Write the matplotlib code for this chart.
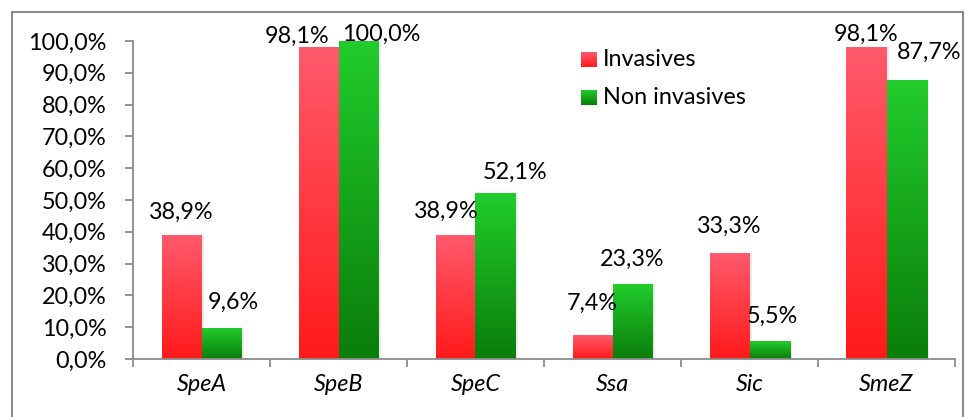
import numpy as np
import matplotlib
matplotlib.use("Agg")
import matplotlib.pyplot as plt
from matplotlib.colors import LinearSegmentedColormap
from matplotlib.patches import Rectangle

# Data
categories = ["SpeA", "SpeB", "SpeC", "Ssa", "Sic", "SmeZ"]
invasives = [38.9, 98.1, 38.9, 7.4, 33.3, 98.1]
non_invasives = [9.6, 100.0, 52.1, 23.3, 5.5, 87.7]
series_names = ["Invasives", "Non invasives"]
yticks = list(range(0, 101, 10))

plt.rcParams["font.family"] = ["Lato", "DejaVu Sans"]

W, H, DPI = 974, 417, 100
fig = plt.figure(figsize=(W / DPI, H / DPI), dpi=DPI)

def fx(px):
    return px / W

def fy(py):
    return 1 - py / H

# Outer chart frame
fig.patches.append(Rectangle((fx(11.5), fy(430)), fx(962.5) - fx(11.5), fy(11.5) - fy(430),
                             transform=fig.transFigure, fill=False,
                             edgecolor="#8c8c8c", linewidth=1.5, zorder=0))

ax = fig.add_axes([fx(133), fy(359), fx(955) - fx(133), fy(41) - fy(359)])

red_cmap = LinearSegmentedColormap.from_list("red", ["#ff1a1a", "#ff5a6c"])
green_cmap = LinearSegmentedColormap.from_list("green", ["#0a7d0a", "#22cc2c"])
grad = np.linspace(0, 1, 256).reshape(-1, 1)

bw = 40 / 137
x = np.arange(len(categories))

def gradient_bar(xc, h, cmap):
    # soft shadow on the right side
    ax.add_patch(Rectangle((xc - bw / 2 + 0.02, 0), bw, h, facecolor="#000000",
                           alpha=0.08, edgecolor="none", zorder=1))
    ax.imshow(grad, cmap=cmap, aspect="auto", origin="lower",
              extent=(xc - bw / 2, xc + bw / 2, 0, h), zorder=2)

for i in x:
    gradient_bar(i - bw / 2, invasives[i], red_cmap)
    gradient_bar(i + bw / 2, non_invasives[i], green_cmap)

# Value labels (pixel offsets from the top of each bar)
inv_off = [(0, 23), (-21, 11), (-9, 24), (0, 32), (0, 27), (0, 13)]
non_off = [(12, 26), (23, 7), (20, 21), (0, 26), (3, 25), (23, 28)]
fs = 16.8
for i in x:
    for val, xc, off in ((invasives[i], i - bw / 2, inv_off[i]),
                         (non_invasives[i], i + bw / 2, non_off[i])):
        ax.annotate(f"{val:.1f}%".replace(".", ","), (xc, val),
                    xytext=off, textcoords="offset pixels",
                    ha="center", va="center", fontsize=fs, color="black",
                    annotation_clip=False, zorder=5)

ax.set_xlim(-0.5, len(categories) - 0.5)
ax.set_ylim(0, 100)
ax.set_yticks(yticks)
ax.set_yticklabels([f"{t:.1f}%".replace(".", ",") for t in yticks], fontsize=fs)
ax.set_xticks(x)
ax.set_xticklabels(categories, fontsize=fs, style="italic")
ax.set_xticks(np.arange(-0.5, len(categories)), minor=True)

for s in ("top", "right"):
    ax.spines[s].set_visible(False)
for s in ("left", "bottom"):
    ax.spines[s].set_color("#8c8c8c")
    ax.spines[s].set_linewidth(1.3)

ax.tick_params(axis="y", length=6, width=1.3, color="#8c8c8c", pad=13)
ax.tick_params(axis="x", which="major", length=0, pad=11)
ax.tick_params(axis="x", which="minor", length=6, width=1.3, color="#8c8c8c")

# Legend with gradient swatches
legend_items = [(series_names[0], red_cmap, 52), (series_names[1], green_cmap, 90)]
for name, cmap, top in legend_items:
    sw = fig.add_axes([fx(581), fy(top + 15), fx(597) - fx(581), fy(top) - fy(top + 15)])
    sw.imshow(grad, cmap=cmap, aspect="auto", origin="lower")
    sw.set_axis_off()
    fig.text(fx(603), fy(top + 7.5), name, fontsize=fs, va="center", ha="left")

fig.savefig("out.png", dpi=DPI)
